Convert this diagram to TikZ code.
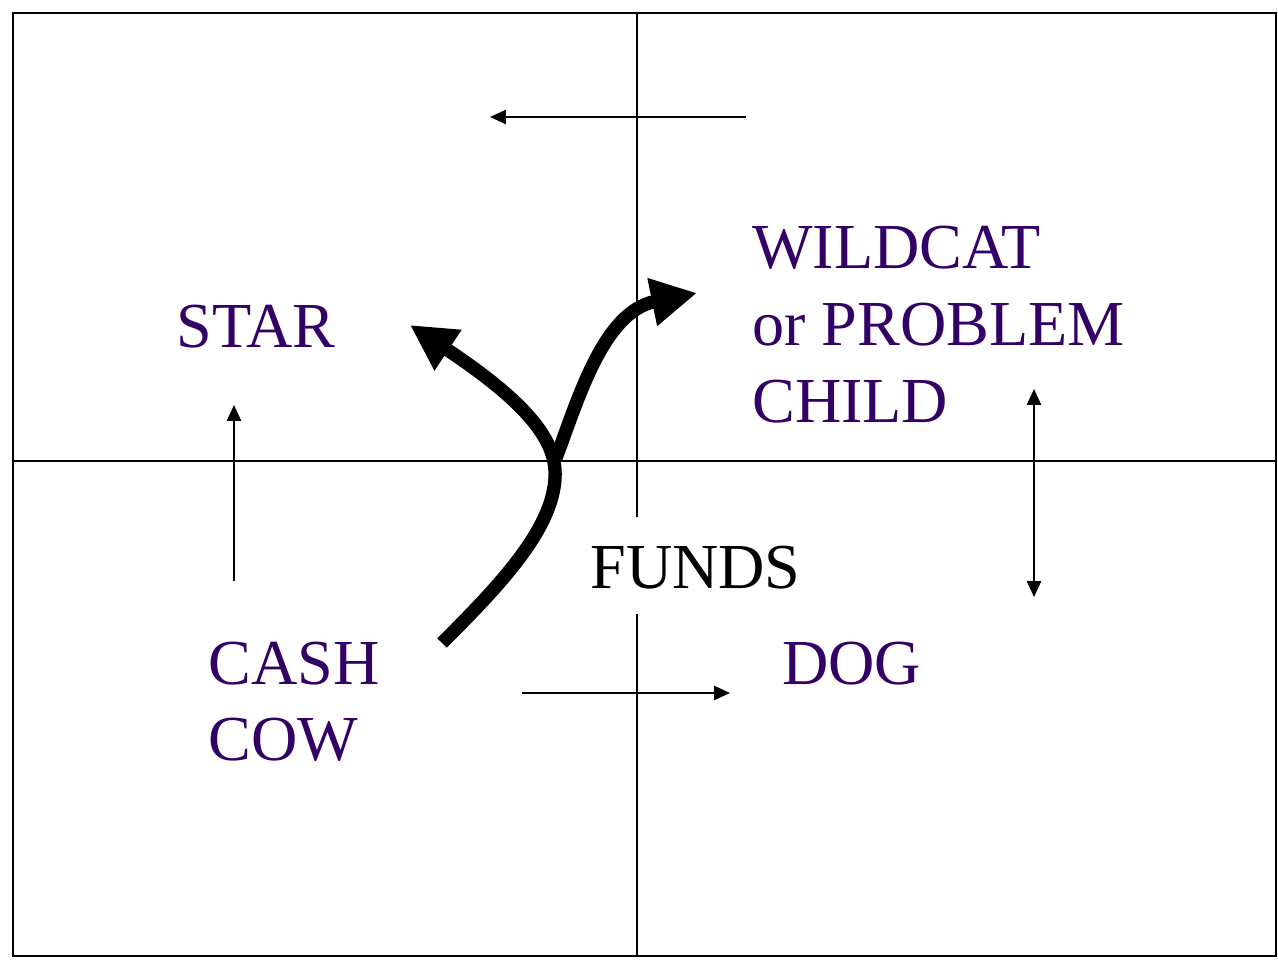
\documentclass[tikz,border=0pt]{standalone}
\usepackage{fontspec}
\setmainfont{Liberation Serif}
\usetikzlibrary{arrows.meta}
\definecolor{labelpurple}{RGB}{51,0,102}
\begin{document}
\begin{tikzpicture}[x=0.02cm,y=-0.02cm,
  frame/.style={line width=1.15pt},
  thinarrow/.style={line width=1.15pt,-{Triangle[length=9pt,width=8pt]}},
  botharrow/.style={line width=1.15pt,{Triangle[length=9pt,width=8pt]}-{Triangle[length=9pt,width=8pt]}},
  bigarrow/.style={line width=7.6pt,-{Triangle[length=26pt,width=26pt]}},
  lab/.style={inner sep=0pt,anchor=base west,font=\fontsize{36.5}{43}\selectfont,text=labelpurple},
  blab/.style={lab,text=black},
]
\useasboundingbox (0,0) rectangle (1278,966);
% frame and quadrant lines
\draw[frame] (13,13) rectangle (1276,956);
\coordinate (hl) at (13,461);
\coordinate (hr) at (1276,461);
\coordinate (vt) at (637,13);
\coordinate (vm1) at (637,517);
\coordinate (vm2) at (637,614);
\coordinate (vb) at (637,956);
\draw[frame] (hl) -- (hr);
\draw[frame] (vt) -- (vm1);
\draw[frame] (vm2) -- (vb);
% labels
\node[lab] (star) at (176,347) {STAR};
\node[lab] (wild1) at (752,269) {WILDCAT};
\node[lab] (wild2) at (752,345) {or PROBLEM};
\node[lab] (wild3) at (752,422) {CHILD};
\node[blab] (funds) at (590,588) {FUNDS};
\node[lab] (dog) at (782,684) {DOG};
\node[lab] (cash1) at (208,684) {CASH};
\node[lab] (cash2) at (208,760) {COW};
% thin arrows
\coordinate (ta1) at (746,117);
\coordinate (ta2) at (490,117);
\draw[thinarrow] (ta1) -- (ta2);
\coordinate (ua1) at (234,581);
\coordinate (ua2) at (234,405);
\draw[thinarrow] (ua1) -- (ua2);
\coordinate (da1) at (1034,389);
\coordinate (da2) at (1034,597);
\draw[botharrow] (da1) -- (da2);
\coordinate (ra1) at (522,693);
\coordinate (ra2) at (730,693);
\draw[thinarrow] (ra1) -- (ra2);
% thick fund-flow arrows
\coordinate (fs) at (442,643);
\coordinate (fj) at (555,470);
\coordinate (fl) at (410,325);
\coordinate (fr0) at (556,458);
\coordinate (fr) at (697,293);
\draw[bigarrow,line cap=butt] (fs) .. controls (500,585) and (558,525) .. (fj)
  .. controls (553,435) and (520,398) .. (fl);
\draw[bigarrow] (fr0) .. controls (578,400) and (603,312) .. (fr);
\end{tikzpicture}
\end{document}
